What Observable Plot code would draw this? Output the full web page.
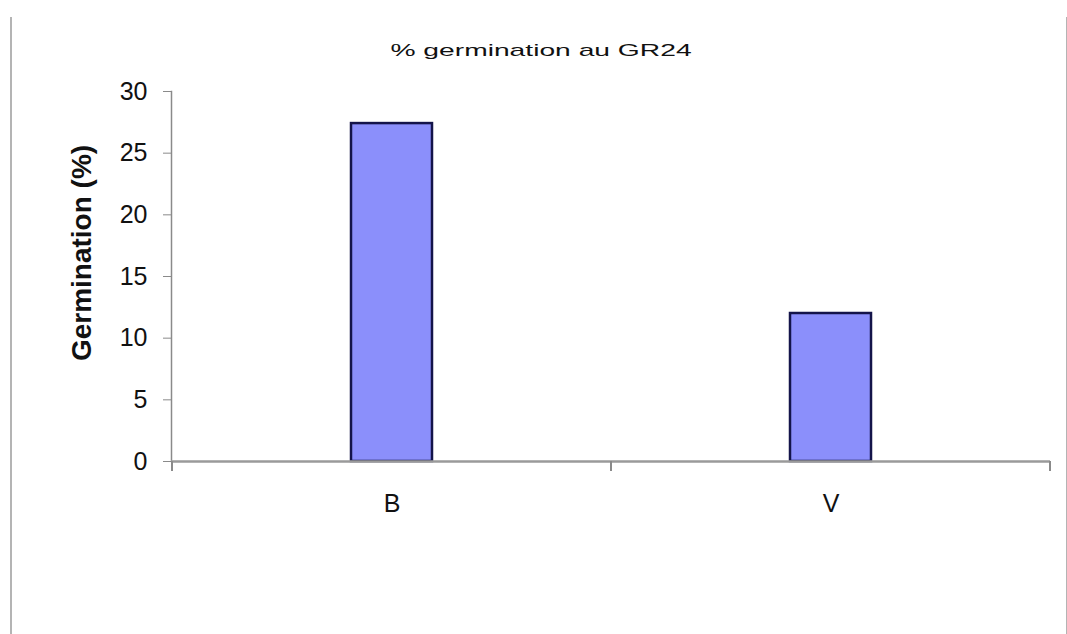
<!DOCTYPE html>
<html>
<head>
<meta charset="utf-8">
<script src="https://cdn.jsdelivr.net/npm/d3@7"></script>
<script src="https://cdn.jsdelivr.net/npm/@observablehq/plot@0.6"></script>
<style>
  body { margin: 0; background: white; }
  #wrap { position: relative; width: 1067px; height: 634px; overflow: hidden; background: white; }
  #border { position: absolute; left: 10px; top: 17px; width: 1054px; bottom: -2px; border-left: 2px solid #b4b4b4; border-right: 2px solid #b4b4b4; pointer-events: none; }
  #title { position: absolute; left: 0; width: 1082px; top: 42px; text-align: center; font: 17px/17px "Liberation Sans", Arial, sans-serif; color: #111; transform: scaleX(1.66); transform-origin: 541px 0; white-space: nowrap; }
</style>
</head>
<body>
<div id="wrap">
  <div id="chart"></div>
  <div id="border"></div>
  <div id="title">% germination au GR24</div>
</div>
<script>
const categories = ["B", "V"];
const germination = [27.4, 12.0];
const yTicks = [0, 5, 10, 15, 20, 25, 30];
const yLabel = "Germination (%)";

const data = categories.map((c, i) => ({cat: c, value: germination[i]}));

// category boundary ticks on the x axis, derived from the band scale
function boundaryTicks(index, scales, values, dimensions) {
  const x = scales.x;
  const bw = x.bandwidth();
  const step = x.step();
  const y0 = dimensions.height - dimensions.marginBottom;
  const xs = [];
  categories.forEach((c, i) => {
    const center = x(c) + bw / 2;
    if (i === 0) xs.push(center - step / 2);
    xs.push(center + step / 2);
  });
  const g = d3.create("svg:g");
  g.selectAll("line").data(xs).join("line")
    .attr("x1", d => d).attr("x2", d => d)
    .attr("y1", y0).attr("y2", y0 + 10)
    .attr("stroke", "#8a8a8a").attr("stroke-width", 2);
  return g.node();
}

const chart = Plot.plot({
  width: 1067,
  height: 634,
  marginLeft: 171,
  marginRight: 17,
  marginTop: 91,
  marginBottom: 173,
  style: {fontFamily: '"Liberation Sans", Arial, sans-serif', fontSize: "25px", background: "white", color: "#111"},
  x: {domain: categories, paddingInner: 0.816, paddingOuter: 0.408, label: null},
  y: {domain: [0, 30], label: null},
  marks: [
    Plot.frame({anchor: "left", stroke: "#8a8a8a", strokeWidth: 1.5}),
    Plot.barY(data, {x: "cat", y: "value", fill: "#8b8ffb", stroke: "#14144a", strokeWidth: 2.5}),
    Plot.ruleY([0], {stroke: "#9a9a9a", strokeWidth: 2.5}),
    Plot.axisY({ticks: yTicks, tickSize: 8, tickPadding: 16, stroke: "#8a8a8a", fill: "#111", label: null}),
    Plot.axisX({tickSize: 0, tickPadding: 33, fill: "#111", label: null}),
    boundaryTicks,
    Plot.text([yLabel], {frameAnchor: "left", textAnchor: "middle", dx: -89.5, dy: -23.5, rotate: -90, fontWeight: "bold", fontSize: 28, fill: "#111"})
  ]
});
document.getElementById("chart").appendChild(chart);
</script>
</body>
</html>
